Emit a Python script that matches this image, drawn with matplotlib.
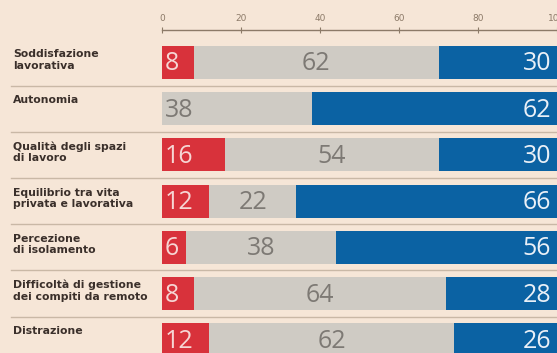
import matplotlib

matplotlib.use("Agg")
import matplotlib.pyplot as plt

categories = [
    "Soddisfazione\nlavorativa",
    "Autonomia",
    "Qualità degli spazi\ndi lavoro",
    "Equilibrio tra vita\nprivata e lavorativa",
    "Percezione\ndi isolamento",
    "Difficoltà di gestione\ndei compiti da remoto",
    "Distrazione",
]
red_vals = [8, 0, 16, 12, 6, 8, 12]
gray_vals = [62, 38, 54, 22, 38, 64, 62]
blue_vals = [30, 62, 30, 66, 56, 28, 26]
ticks = [0, 20, 40, 60, 80, 100]

BG = "#f6e6d7"
RED = "#d8323b"
GRAY = "#cfcbc4"
BLUE = "#0b62a3"

W, H = 557, 353
fig = plt.figure(figsize=(W / 100, H / 100), dpi=100, facecolor=BG)

# pixel layout of the original
x0_px, row0_px, pitch_px, axis_px = 162, 62.5, 46.2, 29.5
ax = fig.add_axes([x0_px / W, 0, (W - x0_px) / W, (H - axis_px) / H])
ax.set_facecolor(BG)
ppu = 3.97  # pixels per unit on the x axis
ax.set_xlim(0, (W - x0_px) / ppu)
ax.set_ylim((H - row0_px) / pitch_px, (axis_px - row0_px) / pitch_px)

bar_h = 33 / pitch_px
rows = list(range(len(categories)))
ax.barh(rows, red_vals, height=bar_h, color=RED, linewidth=0)
ax.barh(rows, gray_vals, left=red_vals, height=bar_h, color=GRAY, linewidth=0)
lefts = [r + g for r, g in zip(red_vals, gray_vals)]
ax.barh(rows, blue_vals, left=lefts, height=bar_h, color=BLUE, linewidth=0)

num_font = dict(family="Open Sans", fontsize=18, va="center_baseline")
pad = 3 / ppu
dy = -1.5 / pitch_px
label_x = (12 - x0_px) / ppu
for i, (r, g, b) in enumerate(zip(red_vals, gray_vals, blue_vals)):
    if r:
        ax.text(pad, i + dy, str(r), color="#f6d6d4", ha="left", **num_font)
        ax.text(r + g / 2, i + dy, str(g), color="#7d7974", ha="center", **num_font)
    else:
        ax.text(pad, i + dy, str(g), color="#7d7974", ha="left", **num_font)
    ax.text(100 - 6 / ppu, i + dy, str(b), color="#eaf0f7", ha="right", **num_font)

    ax.text(label_x, i - bar_h / 2 + 3 / pitch_px, categories[i], ha="left", va="top",
            fontsize=7.8, fontweight="bold", color="#3a2f2a", linespacing=1.2,
            family="DejaVu Sans", clip_on=False)

    if i < len(categories) - 1:
        ax.plot([(10 - x0_px) / ppu, 101], [i + 0.5, i + 0.5], color="#c9b8a6",
                linewidth=1, clip_on=False, zorder=0.5)

ax.xaxis.tick_top()
ax.set_xticks(ticks)
ax.set_xticklabels([str(t) for t in ticks])
ax.tick_params(axis="x", direction="inout", length=4, width=0.8, colors="#8c7a68",
               labelsize=6.5, pad=3)
ax.set_yticks([])
for s in ["left", "right", "bottom"]:
    ax.spines[s].set_visible(False)
ax.spines["top"].set_color("#8c7a68")
ax.spines["top"].set_linewidth(1)

fig.savefig("out.png", dpi=100, facecolor=BG)
